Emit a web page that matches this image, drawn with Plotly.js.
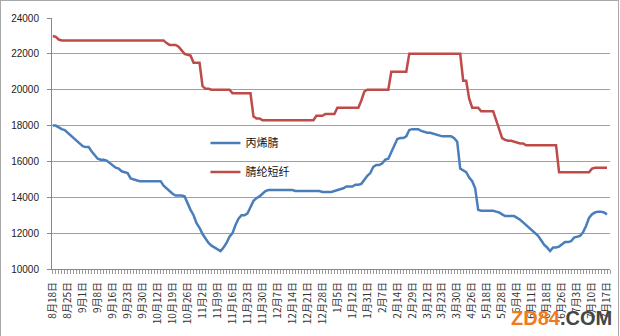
<!DOCTYPE html>
<html>
<head>
<meta charset="utf-8">
<script src="https://cdn.plot.ly/plotly-3.0.1.min.js"></script>
<style>
html,body{margin:0;padding:0;background:#fff;}
#wrap{position:relative;width:620px;height:336px;}
#chart{width:620px;height:336px;}
#frame{position:absolute;left:0;top:0;width:619px;height:336px;box-sizing:border-box;border:1px solid #a8a8a8;border-bottom:none;pointer-events:none;}
</style>
</head>
<body>
<div id="wrap"><div id="chart"></div><div id="frame"></div></div>
<script>
// Tick labels (one every 5 trading days)
const tickLabels = ["8月18日","8月25日","9月1日","9月8日","9月16日","9月23日","9月30日","10月12日","10月19日","10月26日",
  "11月2日","11月9日","11月16日","11月23日","11月30日","12月7日","12月14日","12月21日","12月28日","1月5日",
  "1月12日","1月31日","2月7日","2月14日","2月29日","3月12日","3月23日","3月30日","4月26日","5月18日",
  "5月28日","6月4日","6月11日","6月18日","6月26日","7月3日","7月10日","7月17日"];

const seriesNames = ["丙烯腈","腈纶短纤"];

const yTicks = [10000,12000,14000,16000,18000,20000,22000,24000];

// 丙烯腈 (acrylonitrile) daily prices
const acrylonitrile = [
  18000,18000,17900,17800,17750,17600,17450,17350,17150,17000,
  16850,16800,16800,16550,16350,16150,16100,16100,16050,15900,
  15800,15650,15600,15450,15400,15350,15050,15000,14950,14900,
  14900,14900,14900,14900,14900,14900,14900,14650,14500,14300,
  14200,14100,14100,14100,14050,13650,13300,13000,12550,12300,
  11950,11700,11450,11300,11200,11100,11000,11200,11450,11800,
  12000,12450,12800,13000,13000,13100,13500,13800,13950,14050,
  14200,14350,14400,14400,14400,14400,14400,14400,14400,14400,
  14400,14350,14350,14350,14350,14350,14350,14350,14350,14350,
  14300,14300,14300,14300,14350,14400,14450,14500,14600,14600,
  14600,14700,14700,14750,15000,15200,15350,15700,15800,15800,
  15900,16100,16150,16550,16900,17250,17300,17300,17400,17750,
  17800,17800,17800,17700,17650,17600,17600,17550,17500,17450,
  17400,17400,17400,17400,17300,17100,15600,15500,15400,15100,
  14900,14500,13300,13250,13250,13250,13250,13250,13200,13150,
  13050,12950,12950,12950,12950,12850,12750,12600,12450,12350,
  12200,12050,11850,11600,11350,11200,11000,11200,11200,11250,
  11400,11500,11500,11550,11750,11800,11850,12050,12400,12850,
  13050,13150,13200,13200,13150,13050
];

// 腈纶短纤 (acrylic staple fibre) daily prices
const acrylicFibre = [
  23000,22950,22800,22750,22750,22750,22750,22750,22750,22750,
  22750,22750,22750,22750,22750,22750,22750,22750,22750,22750,
  22750,22750,22750,22750,22750,22750,22750,22750,22750,22750,
  22750,22750,22750,22750,22750,22750,22750,22750,22600,22500,
  22500,22500,22400,22200,22000,21950,21900,21500,21500,21500,
  20200,20050,20050,20000,20000,20000,20000,20000,20000,20000,
  19800,19800,19800,19800,19800,19800,19800,18500,18400,18400,
  18300,18300,18300,18300,18300,18300,18300,18300,18300,18300,
  18300,18300,18300,18300,18300,18300,18300,18300,18550,18550,
  18550,18650,18650,18650,18650,19000,19000,19000,19000,19000,
  19000,19000,19000,19400,19900,20000,20000,20000,20000,20000,
  20000,20000,20000,21000,21000,21000,21000,21000,21000,22000,
  22000,22000,22000,22000,22000,22000,22000,22000,22000,22000,
  22000,22000,22000,22000,22000,22000,22000,20500,20500,19500,
  19000,19000,19000,18800,18800,18800,18800,18800,18300,17800,
  17300,17200,17150,17150,17100,17050,17000,17000,16900,16900,
  16900,16900,16900,16900,16900,16900,16900,16900,16900,15400,
  15400,15400,15400,15400,15400,15400,15400,15400,15400,15400,
  15600,15650,15650,15650,15650,15650
];

const xIdx = acrylonitrile.map((_, i) => i);
const tickVals = tickLabels.map((_, i) => i * 5);

const traces = [
  {x: xIdx, y: acrylonitrile, name: seriesNames[0], type: 'scatter', mode: 'lines',
   line: {color: '#4a7ebb', width: 2.5}, legend: 'legend'},
  {x: xIdx, y: acrylicFibre, name: seriesNames[1], type: 'scatter', mode: 'lines',
   line: {color: '#be4b48', width: 2.5}, legend: 'legend2'},
  // invisible carrier for the per-day minor tick axis
  {x: xIdx, y: acrylonitrile, xaxis: 'x2', type: 'scatter', mode: 'lines',
   line: {color: 'rgba(0,0,0,0)', width: 0}, showlegend: false, hoverinfo: 'skip'}
];

const legendCommon = {xanchor: 'left', yanchor: 'middle', bgcolor: 'rgba(0,0,0,0)',
  font: {family: 'Noto Sans CJK SC, sans-serif', size: 11, color: '#111'}, itemwidth: 30};

const layout = {
  width: 620, height: 336,
  margin: {l: 52, r: 10, t: 18, b: 67},
  paper_bgcolor: '#fff', plot_bgcolor: '#fff',
  showlegend: true,
  legend: Object.assign({x: 0.275, y: 0.502}, legendCommon),
  legend2: Object.assign({x: 0.275, y: 0.386}, legendCommon),
  xaxis: {
    range: [-0.25, 186], tickmode: 'array', tickvals: tickVals, ticktext: tickLabels,
    tickangle: -90, ticks: 'outside', ticklen: 4, tickcolor: '#888',
    showline: true, linecolor: '#888', linewidth: 1, showgrid: false, zeroline: false,
    tickfont: {family: 'Noto Sans CJK SC, sans-serif', size: 10, color: '#333'},
    ticklabelstandoff: 4
  },
  xaxis2: {
    overlaying: 'x', anchor: 'y', side: 'bottom', range: [-0.25, 186],
    tickmode: 'linear', tick0: 0, dtick: 1, ticks: 'outside', ticklen: 4, tickcolor: '#999',
    showticklabels: false, showgrid: false, zeroline: false, showline: false
  },
  yaxis: {
    range: [10000, 24000], tickmode: 'array', tickvals: yTicks, ticktext: yTicks.map(String),
    ticks: 'outside', ticklen: 4, tickcolor: '#888',
    showline: true, linecolor: '#888', linewidth: 1,
    showgrid: true, gridcolor: '#a0a0a0', gridwidth: 1, zeroline: false,
    tickfont: {family: 'Liberation Sans, Arial, sans-serif', size: 10, color: '#222'},
    ticklabelstandoff: 6
  },
  annotations: [{
    xref: 'paper', yref: 'paper', x: 0.913, y: -0.195, xanchor: 'center', yanchor: 'middle',
    showarrow: false,
    text: '<b><span style="color:#f07a1e">ZD84</span><span style="color:#454545">.COM</span></b>',
    font: {family: 'Liberation Sans, Arial, sans-serif', size: 20}
  }]
};

Plotly.newPlot('chart', traces, layout, {staticPlot: true, displayModeBar: false});
</script>
</body>
</html>
